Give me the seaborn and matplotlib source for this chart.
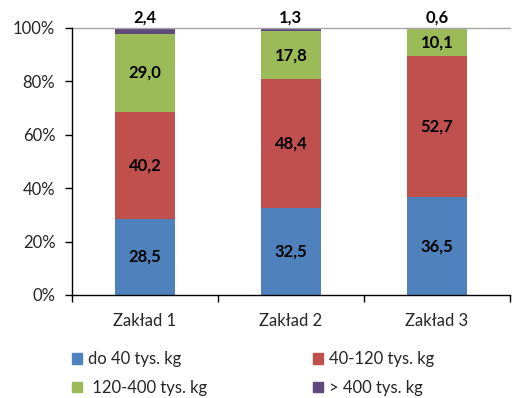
import numpy as np
import pandas as pd
import matplotlib
matplotlib.use("Agg")
import matplotlib.pyplot as plt
from matplotlib.patches import Patch
from matplotlib.ticker import PercentFormatter
import seaborn as sns

categories = ["Zakład 1", "Zakład 2", "Zakład 3"]
series = ["do 40 tys. kg", "40-120 tys. kg", " 120-400 tys. kg", "> 400 tys. kg"]
do_40 = [28.5, 32.5, 36.5]
od_40_120 = [40.2, 48.4, 52.7]
od_120_400 = [29.0, 17.8, 10.1]
ponad_400 = [2.4, 1.3, 0.6]
colors = ["#4F81BD", "#C0504D", "#9BBB59", "#604A7B"]

sns.set_style("white")
plt.rcParams["font.family"] = ["Lato", "DejaVu Sans"]

values = [do_40, od_40_120, od_120_400, ponad_400]
df = pd.DataFrame({"zaklad": categories})
for name, vals in zip(series, values):
    df[name] = vals
tops = df[series].cumsum(axis=1)
# normalise stacks to 100%
tops = tops.div(tops[series[-1]], axis=0) * 100

fig = plt.figure(figsize=(5.12, 3.98), dpi=100)
ax = fig.add_axes([0.1406, 0.259, 0.855, 0.671])

# stacked bars: draw cumulative heights, tallest first
for name, col in reversed(list(zip(series, colors))):
    sns.barplot(x=df["zaklad"], y=tops[name], color=col, width=0.41,
                saturation=1, linewidth=0, ax=ax)

# labels
for i in range(len(categories)):
    bottom = 0
    for j, name in enumerate(series):
        top = tops.loc[i, name]
        label = f"{values[j][i]:.1f}".replace(".", ",")
        if j == len(series) - 1:
            y = 103.8
        else:
            y = (bottom + top) / 2
        ax.text(i, y, label, ha="center", va="center", fontsize=12,
                fontweight="bold", color="black", clip_on=False)
        bottom = top

ax.set_ylim(0, 100)
ax.set_xlim(-0.5, 2.5)
ax.yaxis.set_major_formatter(PercentFormatter(decimals=0))
ax.set_yticks(np.arange(0, 101, 20))
ax.set_xlabel("")
ax.set_ylabel("")
ax.axhline(100, color="#A6A6A6", lw=1, clip_on=False)

for s in ["top", "right"]:
    ax.spines[s].set_visible(False)
ax.spines["left"].set_color("black")
ax.spines["bottom"].set_color("black")
ax.spines["left"].set_linewidth(1)
ax.spines["bottom"].set_linewidth(1)

ax.set_xticks([0, 1, 2])
ax.set_xticklabels(categories)
ax.set_xticks([-0.5, 0.5, 1.5, 2.5], minor=True)
ax.tick_params(axis="x", which="major", length=0, pad=13, labelsize=12)
ax.tick_params(axis="x", which="minor", length=5, width=1, direction="out", color="black")
ax.tick_params(axis="y", length=5, width=1, direction="out", color="black", labelsize=12, pad=7)
ax.yaxis.set_ticks_position("left")
ax.xaxis.set_ticks_position("bottom")

handles = [Patch(color=c, label=n) for n, c in zip(series, colors)]
order = [0, 2, 1, 3]
fig.legend([handles[k] for k in order], [series[k] for k in order], ncol=2,
           loc="lower left", bbox_to_anchor=(0.111, -0.032), frameon=False,
           fontsize=12, handlelength=0.6, handleheight=0.6, handletextpad=0.4,
           columnspacing=6.3, labelspacing=0.75)

fig.savefig("out.png", dpi=100)
